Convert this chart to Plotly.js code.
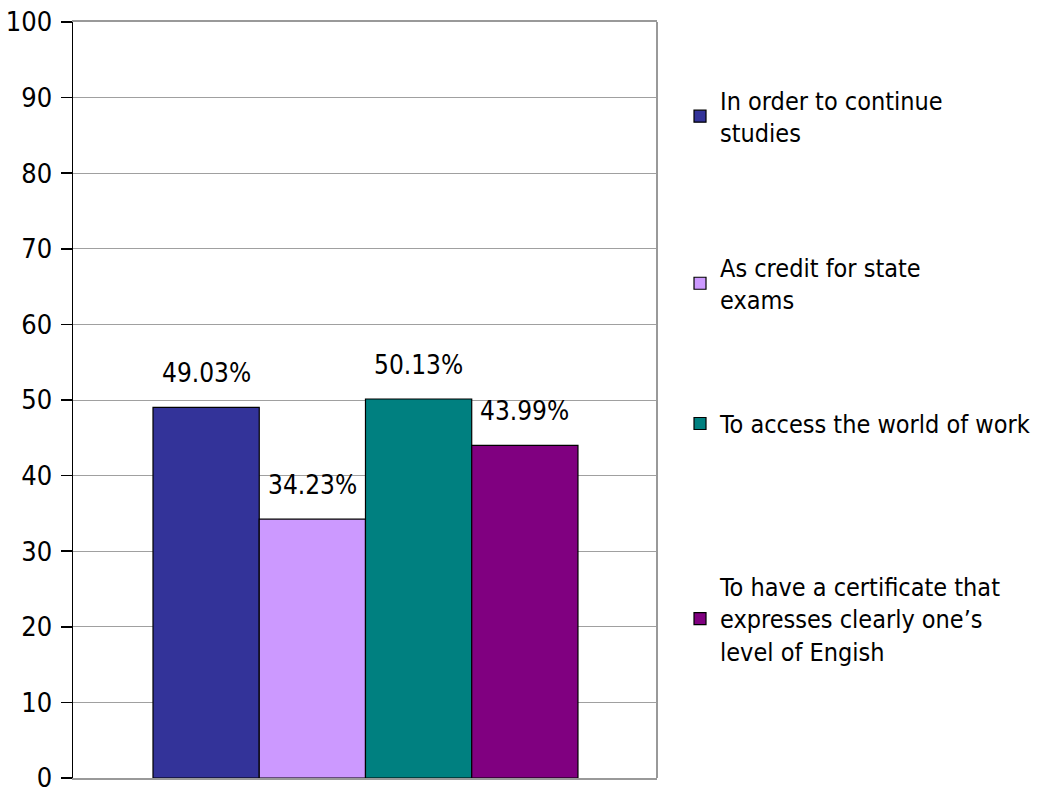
<!DOCTYPE html>
<html>
<head>
<meta charset="utf-8">
<script src="https://cdn.plot.ly/plotly-3.0.1.min.js"></script>
<style>html,body{margin:0;padding:0;background:#fff;}#chart{width:1051px;height:789px;}</style>
</head>
<body>
<div id="chart"></div>
<script>
const categories = [
  'In order to continue<br>studies',
  'As credit for state<br>exams',
  'To access the world of work',
  'To have a certificate that<br>expresses clearly one’s<br>level of Engish'
];
const values = [49.03, 34.23, 50.13, 43.99];
const valueLabels = ['49.03%', '34.23%', '50.13%', '43.99%'];
const colors = ['#333399', '#CC99FF', '#008080', '#800080'];
const yTicks = [0, 10, 20, 30, 40, 50, 60, 70, 80, 90, 100];
const legendTops = [0.927, 0.706, 0.499, 0.284];

const FONT = '"Liberation Sans Narrow", "Arial Narrow", "DejaVu Sans Condensed", "Liberation Sans", Arial, sans-serif';

const traces = values.map((v, i) => ({
  type: 'bar',
  x: [i],
  y: [v],
  width: 1,
  name: categories[i],
  marker: {color: colors[i], line: {color: '#000', width: 1.2}},
  legend: i === 0 ? 'legend' : 'legend' + (i + 1),
  hoverinfo: 'skip'
}));

const annotations = values.map((v, i) => ({
  x: i, y: v, xref: 'x', yref: 'y',
  text: valueLabels[i], showarrow: false,
  yanchor: 'bottom', yshift: 17,
  font: {family: FONT, size: 26, color: '#000'}
}));

const layout = {
  width: 1051, height: 789,
  margin: {l: 73, r: 394, t: 22, b: 11, autoexpand: false},
  paper_bgcolor: '#fff', plot_bgcolor: '#fff',
  font: {family: FONT, color: '#000'},
  barmode: 'overlay',
  showlegend: true,
  xaxis: {
    range: [-1.253, 4.244], showticklabels: false, showgrid: false,
    zeroline: false, showline: true, linecolor: '#999', linewidth: 2, mirror: true, ticks: ''
  },
  yaxis: {
    range: [0, 100], tickvals: yTicks, ticktext: yTicks.map(String),
    ticks: 'outside', ticklen: 11, tickcolor: '#000', tickwidth: 1.5,
    showline: true, linecolor: '#000', linewidth: 1.5,
    showgrid: true, gridcolor: '#a0a0a0', gridwidth: 1, zeroline: false,
    ticklabeloverflow: 'allow', automargin: false, ticklabelstandoff: 3,
    tickfont: {family: FONT, size: 27, color: '#000'}
  },
  shapes: [{type: 'line', xref: 'paper', yref: 'paper', x0: 1, x1: 1, y0: 0, y1: 1,
            line: {color: '#999', width: 2}}],
  annotations: annotations
};

legendTops.forEach((t, i) => {
  const key = i === 0 ? 'legend' : 'legend' + (i + 1);
  layout[key] = {
    x: 1.0394, xanchor: 'left', y: t, yanchor: 'top',
    bgcolor: 'rgba(0,0,0,0)', borderwidth: 0,
    font: {family: FONT, size: 25, color: '#000'},
    itemclick: false, itemdoubleclick: false
  };
});

Plotly.newPlot('chart', traces, layout, {displayModeBar: false, staticPlot: true});
</script>
</body>
</html>
